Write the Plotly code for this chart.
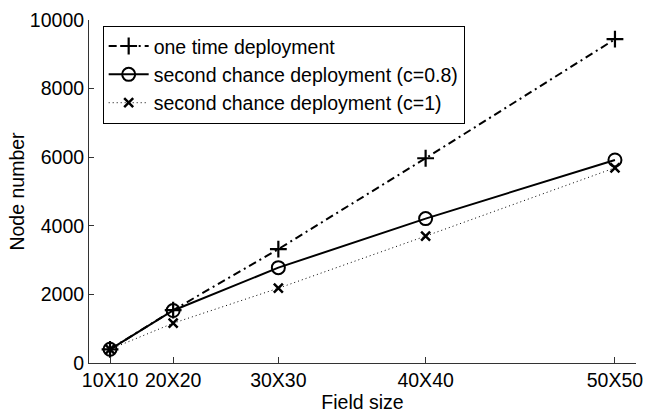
import plotly.graph_objects as go

field_sizes = [10, 20, 30, 40, 50]
tick_labels = ["10X10", "20X20", "30X30", "40X40", "50X50"]
y_ticks = [0, 2000, 4000, 6000, 8000, 10000]
one_time = [400, 1540, 3320, 5970, 9440]
second_c08 = [400, 1530, 2780, 4210, 5920]
second_c1 = [400, 1160, 2180, 3700, 5690]

areas = [s * s for s in field_sizes]

FONT = "Liberation Sans, Arial, Helvetica, sans-serif"
FS = 19.5

fig = go.Figure()
fig.add_trace(go.Scatter(
    x=areas, y=one_time, mode="lines+markers", name="one time deployment",
    line=dict(color="black", width=2, dash="8px,4px,2px,4px"),
    marker=dict(symbol="cross-thin", size=12, color="black",
                line=dict(color="black", width=2.2)),
))
fig.add_trace(go.Scatter(
    x=areas, y=second_c08, mode="lines+markers",
    name="second chance deployment (c=0.8)",
    line=dict(color="black", width=2),
    marker=dict(symbol="circle-open", size=13, color="black",
                line=dict(color="black", width=2)),
))
fig.add_trace(go.Scatter(
    x=areas, y=second_c1, mode="lines+markers",
    name="second chance deployment (c=1)",
    line=dict(color="black", width=1, dash="1px,3px"),
    marker=dict(symbol="x-thin", size=9, color="black",
                line=dict(color="black", width=2.5)),
))

fig.update_layout(
    width=652, height=414,
    margin=dict(l=89, r=9, t=15, b=50),
    paper_bgcolor="white", plot_bgcolor="white",
    font=dict(family=FONT, size=FS, color="black"),
    showlegend=True,
    legend=dict(
        x=0.025, y=0.983, xanchor="left", yanchor="top",
        bgcolor="white", bordercolor="black", borderwidth=1,
        font=dict(family=FONT, size=FS, color="black"),
        itemwidth=40, tracegroupgap=0,
    ),
    xaxis=dict(
        range=[0, 2600], tickvals=areas, ticktext=tick_labels,
        ticks="inside", ticklen=6, tickcolor="#333",
        showline=True, linecolor="#333", linewidth=1,
        showgrid=False, zeroline=False, mirror=False,
        title=dict(text="Field size", standoff=0, font=dict(size=FS)),
        tickfont=dict(size=FS),
    ),
    yaxis=dict(
        range=[0, 10000], tickvals=y_ticks, ticktext=[str(v) for v in y_ticks],
        ticks="inside", ticklen=5, tickcolor="#333",
        showline=True, linecolor="#333", linewidth=1,
        showgrid=False, zeroline=False, mirror=False,
        title=dict(text="Node number", standoff=0, font=dict(size=FS)),
        tickfont=dict(size=FS),
    ),
)

fig.write_html("out.html")
